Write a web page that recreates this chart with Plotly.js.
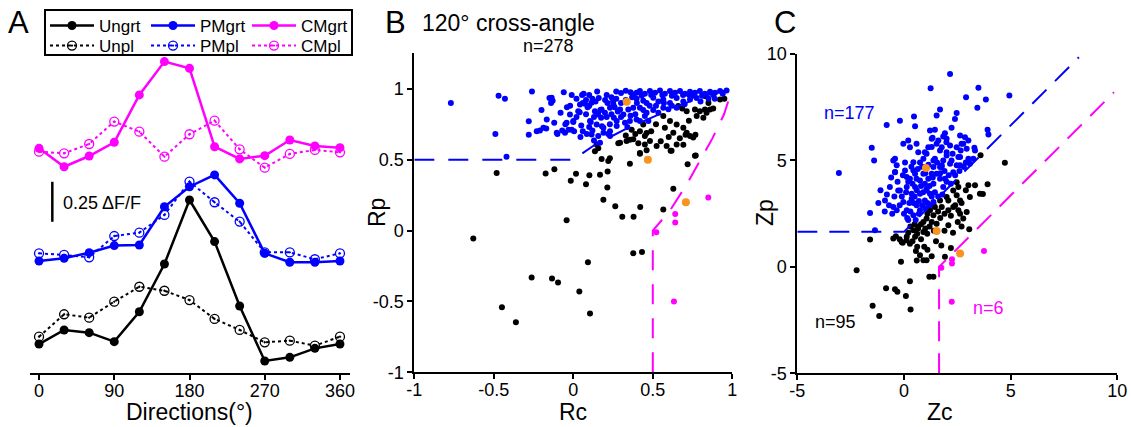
<!DOCTYPE html>
<html><head><meta charset="utf-8">
<script src="https://cdn.plot.ly/plotly-3.0.1.min.js"></script>
<style>html,body{margin:0;padding:0;background:#fff}#chart{width:1131px;height:427px}</style>
</head><body><div id="chart"></div>
<script>
// ---------- Panel A: direction tuning (ΔF/F, stacked) ----------
const directions = [0,30,60,90,120,150,180,210,240,270,300,330,360];
const dirTicks = [0,90,180,270,360];
const ungrt = [0.181,0.269,0.252,0.196,0.383,0.681,1.081,0.821,0.419,0.075,0.098,0.154,0.181];
const unpl  = [0.227,0.367,0.346,0.446,0.539,0.514,0.456,0.338,0.269,0.192,0.202,0.171,0.227];
const pmgrt = [0.700,0.717,0.752,0.796,0.800,1.039,1.164,1.238,1.061,0.748,0.692,0.692,0.700];
const pmpl  = [0.748,0.738,0.723,0.856,0.877,0.988,1.196,1.067,0.946,0.754,0.754,0.711,0.748];
const cmgrt = [1.404,1.289,1.356,1.442,1.738,1.946,1.904,1.414,1.338,1.358,1.456,1.419,1.408];
const cmpl  = [1.383,1.373,1.431,1.571,1.508,1.352,1.492,1.577,1.398,1.283,1.369,1.394,1.379];
const scaleBar = 0.25;

// ---------- Panel B: Rc vs Rp ----------
const rTickVals = [-1,-0.5,0,0.5,1];
const rTickText = ['-1','-0.5','0','0.5','1'];
const bBlue = [[-0.77,0.90],[-0.47,0.95],[-0.43,0.93],[-0.49,0.68],[-0.42,0.52],[-0.26,0.98],[-0.28,0.77],[-0.28,0.675],[-0.21,0.705],[-0.20,0.85],[-0.15,0.935],[-0.14,0.90],[-0.13,0.915],[-0.17,0.72],[-0.10,0.68],[-0.08,0.83],[-0.07,0.705],[-0.06,0.975],[-0.05,0.75],[-0.03,0.71],[-0.01,0.71],[0.00,0.765],[-0.01,0.955],[0.005,0.70],[0.02,0.80],[0.04,0.835],[0.045,0.66],[0.055,0.955],[0.065,0.965],[0.08,0.92],[0.09,0.87],[0.10,0.955],[0.10,0.88],[0.11,0.765],[0.12,0.705],[0.13,0.635],[0.15,0.98],[0.16,0.935],[0.17,0.85],[0.175,0.795],[0.18,0.735],[0.19,0.69],[0.21,0.955],[0.215,0.90],[0.23,0.75],[0.25,0.91],[0.255,0.795],
[-0.136,0.937],[0.042,0.889],[0.073,0.894],[0.094,0.878],[0.115,0.901],[0.031,0.842],[0.136,0.842],[0.157,0.819],[0.178,0.854],[0.199,0.83],[0.231,0.866],[0.252,0.889],[0.294,0.854],[0.315,0.819],[0.346,0.854],[-0.021,0.819],[-0.042,0.76],[0.0,0.772],[-0.052,0.69],[-0.104,0.69],[-0.188,0.725],[-0.23,0.701],[-0.167,0.783],[0.105,0.772],[0.147,0.748],[0.189,0.725],[0.231,0.701],[0.273,0.772],[0.325,0.76],[0.356,0.772],[0.398,0.783],[0.115,0.678],[0.157,0.666],[0.168,0.619],[0.231,0.666],[0.273,0.737],
[0.398,0.972],[0.419,0.984],[0.45,0.965],[0.482,0.984],[0.514,0.972],[0.545,0.988],[0.576,0.965],[0.608,0.984],[0.64,0.972],[0.671,0.984],[0.702,0.965],[0.734,0.978],[0.765,0.972],[0.796,0.984],[0.828,0.965],[0.86,0.978],[0.891,0.972],[0.923,0.984],[0.964,0.988],
[0.27,0.98],[0.30,0.97],[0.33,0.985],[0.36,0.975],[0.38,0.96],[0.43,0.95],[0.49,0.955],[0.56,0.955],[0.62,0.95],[0.69,0.955],[0.75,0.95],[0.81,0.95],[0.88,0.955],[0.94,0.965],
[0.398,0.93],[0.44,0.915],[0.461,0.90],[0.503,0.937],[0.535,0.91],[0.566,0.925],[0.608,0.90],[0.65,0.935],[0.692,0.91],[0.734,0.925],[0.776,0.935],[0.80,0.91],[0.70,0.89],[0.85,0.93],
[0.377,0.866],[0.419,0.866],[0.461,0.83],[0.503,0.85],[0.535,0.83],[0.566,0.866],[0.598,0.855],[0.65,0.866],[0.419,0.772],[0.45,0.807],[0.472,0.772],[0.39,0.82],[0.36,0.81],[0.30,0.80],[0.28,0.84],[0.62,0.88],[0.52,0.88],[0.48,0.88],[0.44,0.85],[0.33,0.92],[0.30,0.90],[0.27,0.93],[0.24,0.94],[0.20,0.92],[0.14,0.91],[0.12,0.93],[0.02,0.93],[0.06,0.90],[-0.04,0.87],[-0.02,0.88],[0.08,0.82],[0.13,0.80],[0.05,0.74],[0.06,0.70],[0.085,0.68],[-0.12,0.76],[0.21,0.80],[0.24,0.82],[0.34,0.73],[0.22,0.68],
[0.57,0.90],[0.73,0.955],[0.89,0.93],[0.37,0.94],[0.26,0.87],[0.10,0.73],[0.40,0.90]];
const bBlack = [[0.66,0.878],[0.713,0.842],[0.765,0.854],[0.796,0.842],[0.828,0.854],[0.86,0.854],[0.776,0.807],[0.818,0.795],[0.838,0.83],[0.828,0.948],[0.923,0.924],[0.566,0.807],[0.608,0.772],[0.65,0.748],[0.692,0.725],[0.713,0.69],[0.734,0.666],[0.629,0.69],[0.576,0.725],[0.44,0.748],[0.419,0.701],[0.45,0.666],[0.482,0.631],[0.377,0.643],[0.335,0.631],[0.294,0.619],[0.147,0.607],[0.45,0.607],[0.524,0.596],[0.587,0.596],[0.65,0.607],
[0.367,0.711],[0.461,0.687],[0.356,0.64],[0.283,0.616],[0.409,0.616],[0.419,0.546],[0.136,0.56],[0.157,0.58],[0.178,0.504],[0.23,0.51],[0.22,0.49],[0.356,0.471],[0.754,0.656],[0.618,0.562],[0.692,0.605],[0.77,0.529],[0.719,0.468],[0.629,0.294],[-0.174,0.402],[-0.119,0.433],[-0.016,0.351],[0.017,0.40],[0.08,0.327],[0.101,0.389],[0.168,0.394],[0.216,0.417],[0.214,0.304],[0.189,0.217],[0.264,0.172],[0.308,0.097],[0.379,0.097],[0.421,0.166],[0.566,0.148],[-0.042,0.073],
[-0.482,0.405],[-0.629,-0.056],[-0.449,-0.541],[-0.361,-0.647],[-0.262,-0.332],[-0.134,-0.339],[-0.096,-0.367],[0.377,-0.16],[0.432,-0.151],[0.092,-0.223],[0.038,-0.43],[0.105,-0.586],[0.419,0.542],[0.461,0.566],[0.612,0.563],[0.765,0.527],
[0.727,0.774],[0.685,0.86],[0.706,0.675],[0.768,0.675],[0.88,0.86],[0.95,0.93],[0.52,0.75],[0.49,0.70],[0.39,0.68],[0.33,0.67],[0.60,0.66],[0.67,0.65],[0.55,0.63],[0.85,0.90]];
const bMagenta = [[0.522,-0.012],[0.641,0.116],[0.641,0.056],[0.849,0.233],[0.633,-0.501]];
const bOrange = [[0.336,0.908],[0.469,0.50],[0.708,0.20]];
const boundRc = [-1,0,0.136,0.2,0.325,0.5,0.65,0.82,1];
const boundRp = [0.5,0.5,0.605,0.64,0.713,0.8,0.875,0.948,1];
const cmBoundStart = [0.5,-1];

// ---------- Panel C: Zc vs Zp ----------
const zTickVals = [-5,0,5,10];
const zTickText = ['-5','0','5','10'];
const zCrit = 1.645;
const zLineEnd = 8.2;
const cBlue = [[-3.05,4.41],[-1.51,5.6],[-1.40,5.0],[-0.81,6.67],[-0.19,6.86],[0.47,7.06],[0.52,6.61],[1.25,8.39],[2.16,9.06],[1.69,7.39],[1.53,7.11],[2.39,6.95],[2.47,7.23],[2.91,7.97],[3.49,8.41],[3.84,7.86],[3.44,7.47],[4.94,8.05],[3.92,6.44],[3.96,6.22],[1.22,6.41],[1.45,6.44],[1.34,6.06],[1.84,6.12],[2.23,6.53],[1.99,5.86],[2.63,6.17],[2.86,6.09],[3.02,5.94],[2.70,5.78],[2.47,5.62],[2.94,5.55],[3.33,5.47],[3.25,5.08],[3.09,4.84],[2.81,4.69],[2.55,5.16],[2.28,5.31],[2.0,5.23],[1.77,5.62],[1.53,5.78],[1.14,5.62],[1.06,5.31],[0.91,5.08],[1.38,5.0],[1.69,4.69],[1.53,4.38],[1.92,4.14],[0.59,5.78],[0.20,5.94],[-0.03,5.78],[0.28,5.62],[-0.42,5.08],[-0.50,5.0],[-0.42,4.45],[0.13,4.22],[0.44,4.53],[0.59,4.14],[0.91,4.38],[1.14,4.14],[1.38,3.91],[1.84,3.75],[-0.66,3.75],[-0.27,3.59],[0.13,3.75],[0.52,3.75],[0.75,3.44],[1.06,3.59],[-0.89,3.12],[-0.50,2.81],[-0.03,3.05],[0.36,3.2],[0.59,2.89],[0.98,3.12],[1.22,2.89],
[-0.42,4.46],[-0.19,3.59],[-1.59,2.53],[-1.36,1.72],[0.44,2.42],[0.75,2.66],[0.13,2.66],[-0.34,2.66],[1.30,4.38],[0.75,4.06],[0.52,4.38],[0.28,4.14],[0.05,4.53],[-0.34,4.77],[1.06,4.69],[1.77,4.77],[2.16,4.84],[2.63,4.77],[2.31,4.45],[1.06,3.67],[1.38,3.05],[0.2,2.2],[1.22,3.44],[0.36,3.44],[1.69,4.14],[0.98,3.9],
[1.92,6.28],[1.3,6.02],[1.61,5.94],[2.0,6.02],[2.16,5.7],[2.78,5.78],[2.66,5.47],[2.0,5.39],[1.69,5.47],[1.3,5.63],[0.67,5.39],[0.98,5.39],[1.45,5.08],[1.84,5.0],[2.23,5.0],[2.63,5.16],[3.02,5.08],[2.47,4.77],[0.44,4.92],[1.38,4.69],[1.77,4.69],
[-1.1,3.6],[-0.9,2.6],[-0.7,2.9],[-0.8,3.4],[-0.6,4.2],[-0.3,4.0],[-0.1,3.3],[0.0,2.5],[0.1,3.5],[0.2,4.0],[0.25,3.0],[0.3,2.6],[0.4,3.9],[0.45,3.0],[0.5,3.3],[0.55,2.2],[0.6,3.6],[0.65,4.6],[0.7,3.1],[0.75,4.9],[0.8,3.8],[0.85,2.9],[0.9,3.5],[1.0,4.4],[1.1,3.0],[1.15,4.8],[1.2,3.8],[1.3,3.3],[1.35,4.2],[1.45,3.5],[1.55,4.9],[1.6,3.3],[1.7,4.4],[1.8,3.4],[1.9,4.5],[2.0,4.0],[2.1,4.3],[2.2,3.9],[2.4,4.3],[2.6,4.5],[-0.45,3.3],[-0.2,2.9],[0.05,4.9],[0.35,4.7],[-1.2,3.0],[-0.55,2.5],[0.15,2.3],[0.7,2.5],[1.0,2.75],[-0.05,4.3],[0.85,4.7],[2.9,4.9],[3.3,5.6]];
const cBlack = [[2.47,3.98],[3.02,3.83],[3.33,3.83],[3.92,3.88],[3.56,3.44],[3.09,3.28],[2.31,3.59],[2.47,3.36],[2.08,3.12],[2.63,3.12],[1.77,2.81],[2.08,2.66],[2.31,2.81],[2.55,2.66],[2.63,2.5],[2.78,2.27],[2.94,2.58],[1.22,2.66],[1.45,2.81],[1.38,2.42],[1.06,2.27],[0.91,2.11],[1.30,2.11],[1.53,2.03],[0.67,1.88],[0.91,1.64],[0.44,1.72],[0.52,1.41],[0.13,1.41],[-0.11,1.17],[-0.50,1.33],[-1.59,1.28],[2.08,1.95],[2.52,2.11],[3.06,1.77],
[-2.22,-0.16],[-1.47,-1.83],[-1.16,-2.31],[-0.84,-1.01],[-0.42,-1.05],[-0.31,-1.17],[0.09,-1.37],[0.28,-0.67],[0.31,-2.0],[-0.14,0.24],[-0.38,1.44],[-0.06,1.13],[0.12,1.25],[0.28,1.09],[0.56,0.74],[0.62,0.94],[0.75,0.55],[0.91,0.31],[1.06,0.31],[1.30,0.5],[1.19,-0.47],[1.38,-0.47],[0.62,1.56],[0.66,1.8],[1.09,1.56],[2.2,0.89],[1.92,0.47],
[3.59,5.24],[4.73,4.89],[2.55,3.75],[3.70,3.42],[2.0,3.28],[1.69,3.12],[1.38,2.97],
[0.3,1.9],[0.8,2.0],[1.0,1.8],[1.2,1.9],[1.4,1.7],[1.7,2.3],[1.9,2.5],[2.2,2.4],[2.4,2.9],[2.7,3.0],[2.9,3.6],[1.6,2.6],[1.1,2.5],[0.5,2.0],[0.2,1.6],[-0.2,1.3],[0.4,1.2],[0.8,1.3],[0.95,0.95],[1.5,1.2],[1.75,1.0],[0.6,0.3],[1.1,0.8],[2.3,1.6],[2.7,1.9],[1.9,1.7]];
const cMagenta = [[1.75,-0.04],[2.25,0.36],[2.25,0.16],[3.75,0.74],[2.24,-1.64]];
const cOrange = [[1.03,4.65],[1.53,1.69],[2.63,0.63]];

// ---------- colours ----------
const BLUE='#0000FF', MAG='#FF00FF', BLK='#000000', ORG='#F7931E';
const FONT='Liberation Sans, Arial, sans-serif';
const W=1131,H=427;
const fx=p=>p/W, fy=p=>1-p/H;
const X=a=>a.map(d=>d[0]), Y=a=>a.map(d=>d[1]);

const traces=[];
function tuning(name,y,color,dotted,leg){
  traces.push({type:'scatter',mode:'lines+markers',name:name,x:directions,y:y,xaxis:'x',yaxis:'y',
    legend:leg,
    line:{color:color,width:dotted?2:2.5,dash:dotted?'dot':'solid'},
    marker:dotted?{symbol:'circle-open-dot',size:9,color:color,line:{color:color,width:1.3}}
                 :{symbol:'circle',size:9,color:color}});
}
tuning('Ungrt',ungrt,BLK,false,'legend');
tuning('PMgrt',pmgrt,BLUE,false,'legend');
tuning('CMgrt',cmgrt,MAG,false,'legend');
tuning('Unpl',unpl,BLK,true,'legend2');
tuning('PMpl',pmpl,BLUE,true,'legend2');
tuning('CMpl',cmpl,MAG,true,'legend2');

function pts(arr,color,size,xa,ya){
  traces.push({type:'scatter',mode:'markers',x:X(arr),y:Y(arr),xaxis:xa,yaxis:ya,showlegend:false,
    marker:{color:color,size:size,line:{width:0}}});
}
pts(bBlack,BLK,6,'x2','y2');
pts(bBlue,BLUE,6,'x2','y2');
pts(bMagenta,MAG,6,'x2','y2');
pts(bOrange,ORG,8,'x2','y2');
traces.push({type:'scatter',mode:'lines',x:boundRc,y:boundRp,xaxis:'x2',yaxis:'y2',showlegend:false,
  line:{color:BLUE,width:2,dash:'20px,14px'}});
traces.push({type:'scatter',mode:'lines',x:[cmBoundStart[0]].concat(boundRp.slice(1)),y:[cmBoundStart[1]].concat(boundRc.slice(1)),xaxis:'x2',yaxis:'y2',showlegend:false,
  line:{color:MAG,width:2,dash:'20px,14px'}});

pts(cBlack,BLK,6,'x3','y3');
pts(cBlue,BLUE,6,'x3','y3');
pts(cMagenta,MAG,6,'x3','y3');
pts(cOrange,ORG,8,'x3','y3');
traces.push({type:'scatter',mode:'lines',x:[-5,0,zLineEnd],y:[zCrit,zCrit,zLineEnd+zCrit],xaxis:'x3',yaxis:'y3',showlegend:false,
  line:{color:BLUE,width:2,dash:'20px,12px'}});
traces.push({type:'scatter',mode:'lines',x:[zCrit,zCrit,zLineEnd+zCrit],y:[-5,0,zLineEnd],xaxis:'x3',yaxis:'y3',showlegend:false,
  line:{color:MAG,width:2,dash:'20px,12px'}});

const axBase={showgrid:false,zeroline:false,showline:true,linecolor:'#000',linewidth:2,
  ticks:'outside',ticklen:5,tickwidth:2,tickcolor:'#000',tickfont:{family:FONT,size:18,color:'#000'},fixedrange:true};
const xAxBase=Object.assign({},axBase,{ticklabelstandoff:-5});

const legBase={orientation:'h',xanchor:'left',yanchor:'top',bgcolor:'rgba(0,0,0,0)',borderwidth:0,
  font:{family:FONT,size:17,color:'#000'},entrywidth:42,entrywidthmode:'pixels',itemwidth:44,tracegroupgap:0};

const ann=(text,px,py,size,opts)=>Object.assign({text:text,x:fx(px),y:fy(py),xref:'paper',yref:'paper',showarrow:false,
  font:{family:FONT,size:size,color:'#000'},xanchor:'center',yanchor:'middle'},opts||{});

const layout={
  width:W,height:H,margin:{l:0,r:0,t:0,b:0},paper_bgcolor:'#fff',plot_bgcolor:'rgba(0,0,0,0)',
  font:{family:FONT,color:'#000'},
  xaxis:Object.assign({},xAxBase,{domain:[fx(30),fx(350)],range:[-10.8,372],tickvals:dirTicks,anchor:'y'}),
  yaxis:{domain:[fy(373),fy(40)],range:[0,2.081],visible:false,fixedrange:true},
  xaxis2:Object.assign({},xAxBase,{domain:[fx(414.3),fx(732.3)],range:[-1,1],tickvals:rTickVals,ticktext:rTickText,anchor:'y2'}),
  yaxis2:Object.assign({},axBase,{domain:[fy(372.3),fy(53.3)],range:[-1,1.25],tickvals:rTickVals,ticktext:rTickText,anchor:'x2'}),
  xaxis3:Object.assign({},xAxBase,{domain:[fx(797.3),fx(1117.3)],range:[-5,10],tickvals:zTickVals,ticktext:zTickText,anchor:'y3'}),
  yaxis3:Object.assign({},axBase,{domain:[fy(373.3),fy(54)],range:[-5,10],tickvals:zTickVals,ticktext:zTickText,anchor:'x3'}),
  legend:Object.assign({},legBase,{x:fx(45),y:fy(8)}),
  legend2:Object.assign({},legBase,{x:fx(45),y:fy(28)}),
  shapes:[
    {type:'rect',xref:'paper',yref:'paper',x0:fx(45),x1:fx(352),y0:fy(55),y1:fy(10),line:{color:'#000',width:2}},
    {type:'line',xref:'x',yref:'y',x0:15.9,x1:15.9,y0:0.945,y1:0.945+scaleBar,line:{color:'#000',width:2.5}}
  ],
  annotations:[
    ann('A',18,22,31),
    ann('B',395,22,31),
    ann('C',785,22,31),
    ann('0.25 ΔF/F',61,203,18,{xanchor:'left'}),
    ann('Directions(°)',190,412,23),
    ann('120° cross-angle',508,23,23),
    ann('n=278',548,46,18),
    ann('Rp',377,213,23,{textangle:-90}),
    ann('Rc',573,412,23),
    ann('Zp',765,213,23,{textangle:-90}),
    ann('Zc',940,412,23),
    {text:'n=177',x:-2.53,y:7.25,xref:'x3',yref:'y3',showarrow:false,font:{family:FONT,size:18,color:BLUE}},
    {text:'n=95',x:-3.19,y:-2.59,xref:'x3',yref:'y3',showarrow:false,font:{family:FONT,size:18,color:BLK}},
    {text:'n=6',x:3.94,y:-1.94,xref:'x3',yref:'y3',showarrow:false,font:{family:FONT,size:18,color:MAG}}
  ]
};
Plotly.newPlot('chart',traces,layout,{displayModeBar:false,staticPlot:true});
</script></body></html>
